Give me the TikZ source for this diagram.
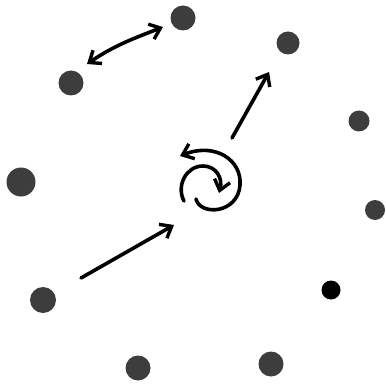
\documentclass[tikz,border=0pt]{standalone}
\usetikzlibrary{arrows.meta}
\begin{document}
\begin{tikzpicture}[x=1pt,y=-1pt,
  dot/.style={circle,fill=black!76,inner sep=0pt,minimum size=#1},
  stroke/.style={line width=3.6pt,line cap=round,line join=round,black},
  tip/.style={-{Straight Barb[length=10pt,width=16pt,line width=3.4pt]}}]
\useasboundingbox (0,0) rectangle (385,387);
\node[dot=25pt] (d1) at (183,18) {};
\node[dot=25pt] (d2) at (71,83) {};
\node[dot=23pt] (d3) at (288,43) {};
\node[dot=21pt] (d4) at (359,121) {};
\node[dot=29pt] (d5) at (21,182) {};
\node[dot=20pt] (d6) at (375,210) {};
\node[dot=26pt] (d7) at (43,300) {};
\node[dot=19pt,fill=black] (d8) at (331,290) {};
\node[dot=25pt] (d9) at (138,368) {};
\node[dot=25pt] (d10) at (271,364) {};
\coordinate (a1) at (87,64);
\coordinate (b1) at (163,27);
\coordinate (a2) at (232,138);
\coordinate (b2) at (269,72);
\coordinate (a3) at (81,278);
\coordinate (b3) at (174,225);
\coordinate (s1) at (196,199);
\coordinate (e1) at (180,156);
\coordinate (s2) at (184,201);
\coordinate (e2) at (219,193);
\draw[stroke,{Straight Barb[length=10pt,width=16pt,line width=3.4pt]}-{Straight Barb[length=10pt,width=16pt,line width=3.4pt]}] (a1) .. controls (115,45) and (135,38) .. (b1);
\draw[stroke,tip] (a2) -- (b2);
\draw[stroke,tip] (a3) -- (b3);
\draw[stroke,tip] (s1) .. controls (200,216) and (238,214) .. (240,185) .. controls (242,160) and (215,142) .. (e1);
\draw[stroke,tip] (s2) .. controls (176,186) and (186,166) .. (203,166) .. controls (216,166) and (223,178) .. (e2);
\end{tikzpicture}
\end{document}
